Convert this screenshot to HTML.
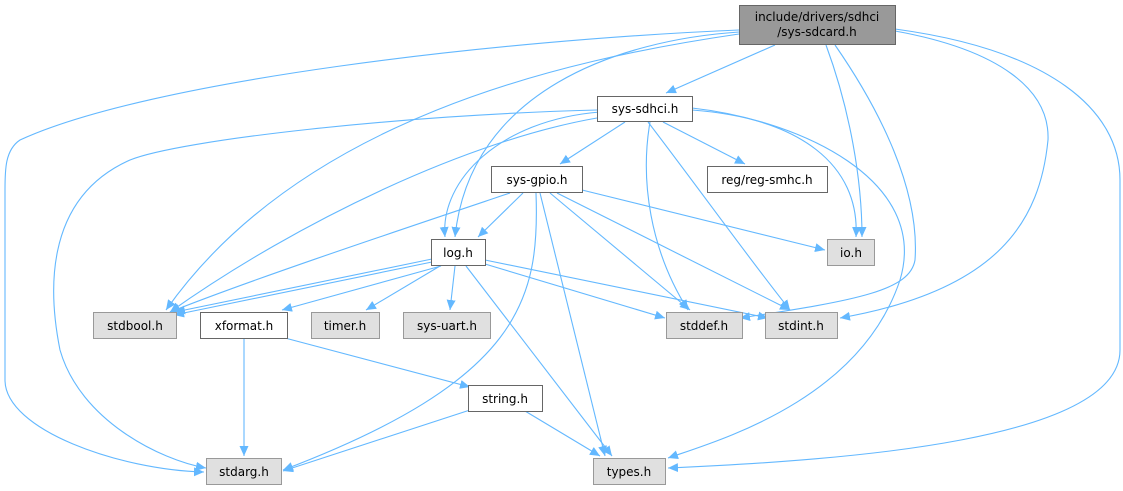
<!DOCTYPE html>
<html><head><meta charset="utf-8"><style>
html,body{margin:0;padding:0;background:#fff;}
svg{display:block;}
text{font-family:"DejaVu Sans","Liberation Sans",sans-serif;font-size:12px;fill:#000;}
.e{fill:none;stroke:#63b8ff;stroke-width:1.1;marker-end:url(#a);}
.w{fill:#fff;stroke:#666;}
.g{fill:#e0e0e0;stroke:#999;}
</style></head><body>
<svg width="1123" height="491" viewBox="0 0 1123 491" xmlns="http://www.w3.org/2000/svg">
<defs><marker id="a" markerUnits="userSpaceOnUse" markerWidth="12" markerHeight="10" refX="10" refY="4.5" orient="auto"><path d="M0,0 L10,4.5 L0,9 Z" fill="#63b8ff"/></marker></defs>
<path class="e" d="M775,45 L666,93"/>
<path class="e" d="M739,32 C620,40 470,90 455,237"/>
<path class="e" d="M739,34 C560,60 300,120 166,310"/>
<path class="e" d="M739,30 C500,40 150,80 20,140 C5,150 5,170 5,190 L5,380 C5,430 120,470 204,472"/>
<path class="e" d="M826,45 C850,110 862,180 862,237"/>
<path class="e" d="M835,45 C880,110 920,190 915,260 C910,290 860,300 740,318"/>
<path class="e" d="M895,31 C1000,50 1050,90 1048,140 C1040,220 1000,290 840,318"/>
<path class="e" d="M895,29 C1050,50 1120,110 1120,180 L1120,350 C1120,440 850,460 668,468"/>
<path class="e" d="M625,122 L560,164"/>
<path class="e" d="M663,122 L745,164"/>
<path class="e" d="M692,110 C800,118 860,165 856,237"/>
<path class="e" d="M692,108 C800,120 930,180 900,280 C860,400 720,440 668,458"/>
<path class="e" d="M650,122 C640,180 650,250 688,310"/>
<path class="e" d="M648,122 C700,190 750,260 790,310"/>
<path class="e" d="M600,112 C500,120 440,180 445,237"/>
<path class="e" d="M597,118 C470,140 300,220 170,312"/>
<path class="e" d="M597,110 C400,115 180,140 130,160 C40,200 50,300 60,350 C80,420 160,460 206,468"/>
<path class="e" d="M523,193 L478,237"/>
<path class="e" d="M582,190 L825,250"/>
<path class="e" d="M510,193 C400,230 250,280 170,312"/>
<path class="e" d="M536,193 C540,300 520,380 283,470"/>
<path class="e" d="M540,193 L605,456"/>
<path class="e" d="M550,193 L690,310"/>
<path class="e" d="M557,193 L790,310"/>
<path class="e" d="M432,262 L174,315"/>
<path class="e" d="M432,259 L175,312"/>
<path class="e" d="M441,266 L282,310"/>
<path class="e" d="M440,266 L366,310"/>
<path class="e" d="M455,266 L450,310"/>
<path class="e" d="M466,266 L612,456"/>
<path class="e" d="M485,264 L665,318"/>
<path class="e" d="M485,260 L768,318"/>
<path class="e" d="M244,338 L244,456"/>
<path class="e" d="M285,338 L470,387"/>
<path class="e" d="M470,410 L283,471"/>
<path class="e" d="M525,411 L600,456"/>
<rect x="739.5" y="5.5" width="156" height="39" fill="#999" stroke="#666"/>
<text x="817" y="21" text-anchor="middle">include/drivers/sdhci</text>
<text x="817" y="36" text-anchor="middle">/sys-sdcard.h</text>
<rect class="w" x="597.5" y="96.5" width="95" height="25"/><text x="645" y="113" text-anchor="middle">sys-sdhci.h</text>
<rect class="w" x="491.5" y="166.5" width="91" height="26"/><text x="537" y="184" text-anchor="middle">sys-gpio.h</text>
<rect class="w" x="707.5" y="166.5" width="120" height="26"/><text x="767" y="184" text-anchor="middle">reg/reg-smhc.h</text>
<rect class="g" x="827.5" y="239.5" width="47" height="26"/><text x="851" y="257" text-anchor="middle">io.h</text>
<rect class="w" x="431.5" y="239.5" width="54" height="26"/><text x="458" y="257" text-anchor="middle">log.h</text>
<rect class="g" x="93.5" y="312.5" width="83" height="26"/><text x="135" y="330" text-anchor="middle">stdbool.h</text>
<rect class="w" x="200.5" y="312.5" width="87" height="26"/><text x="244" y="330" text-anchor="middle">xformat.h</text>
<rect class="g" x="311.5" y="312.5" width="68" height="26"/><text x="345" y="330" text-anchor="middle">timer.h</text>
<rect class="g" x="403.5" y="312.5" width="87" height="26"/><text x="447" y="330" text-anchor="middle">sys-uart.h</text>
<rect class="g" x="666.5" y="312.5" width="76" height="26"/><text x="704" y="330" text-anchor="middle">stddef.h</text>
<rect class="g" x="765.5" y="312.5" width="72" height="26"/><text x="801" y="330" text-anchor="middle">stdint.h</text>
<rect class="w" x="468.5" y="385.5" width="74" height="26"/><text x="505" y="403" text-anchor="middle">string.h</text>
<rect class="g" x="206.5" y="458.5" width="75" height="26"/><text x="244" y="476" text-anchor="middle">stdarg.h</text>
<rect class="g" x="593.5" y="458.5" width="72" height="26"/><text x="629" y="476" text-anchor="middle">types.h</text>
</svg>
</body></html>
